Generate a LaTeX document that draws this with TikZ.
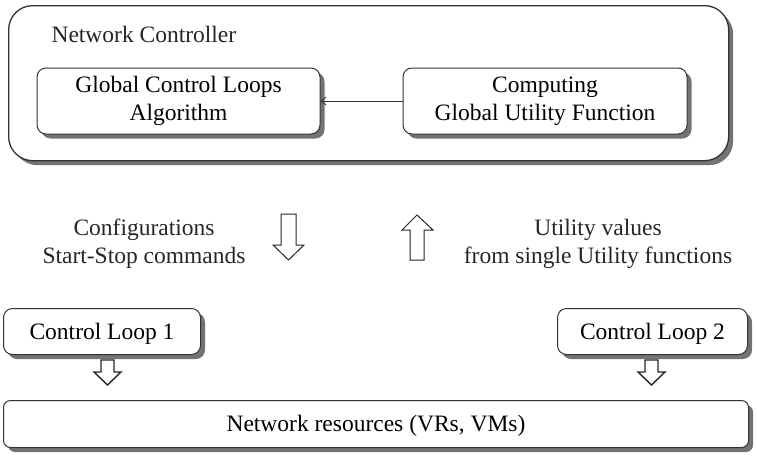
\documentclass[tikz,border=0pt]{standalone}
\usepackage{fontspec}
\setmainfont{Liberation Serif}
\usetikzlibrary{shadows,arrows.meta}
\begin{document}
\begin{tikzpicture}[x=1pt,y=-1pt,
  font=\fontsize{23.5}{28}\selectfont,
  shad/.style={drop shadow={shadow xshift=4.5pt,shadow yshift=-4.5pt,fill=black!55,opacity=1}},
  bigbox/.style={draw=black!80,line width=1.3pt,fill=white,rounded corners=24pt,shad},
  box/.style={draw=black!80,line width=1pt,fill=white,rounded corners=9pt,shad,align=center},
  lbl/.style={align=center,text=black!85},
  hollow/.style={draw=black!85,line width=1pt,fill=white}]
\useasboundingbox (0,0) rectangle (757,456);
% outer controller
\node[bigbox,minimum width=720pt,minimum height=155pt,anchor=north west] (nc) at (8,5) {};
\node[lbl,anchor=west] (nct) at (48,34) {Network Controller};
\node[box,minimum width=283pt,minimum height=66pt] (gcl) at (178.5,101) {Global Control Loops\\Algorithm};
\node[box,minimum width=284pt,minimum height=66pt] (cguf) at (545,101) {Computing\\Global Utility Function};
\draw[black!80,line width=0.8pt,-{Straight Barb[length=5pt,width=8pt]}] (cguf.west) -- (gcl.east);
% labels
\node[lbl] (cfg) at (144,244) {Configurations\\Start-Stop commands};
\node[lbl] (uv) at (598,244) {Utility values\\from single Utility functions};
% big hollow arrows
\draw[hollow] (281,214) -- (296,214) -- (296,245) -- (304,245) -- (288.5,260) -- (273,245) -- (281,245) -- cycle;
\draw[hollow] (410,260) -- (424,260) -- (424,230) -- (433,230) -- (417,215) -- (402,230) -- (410,230) -- cycle;
% control loops
\node[box,minimum width=197pt,minimum height=46pt,anchor=north west,text depth=1pt] (cl1) at (3,308) {Control Loop 1};
\node[box,minimum width=190pt,minimum height=46pt,anchor=north west,text depth=1pt] (cl2) at (557,308) {Control Loop 2};
\node[box,minimum width=745pt,minimum height=47pt,anchor=north west,rounded corners=7pt,text depth=1pt] (nr) at (3,400) {Network resources (VRs, VMs)};
% small arrows
\draw[hollow,line width=1.4pt] (101,360) -- (114,360) -- (114,372) -- (121,372) -- (107.5,385) -- (94,372) -- (101,372) -- cycle;
\draw[hollow,line width=1.4pt] (645,360) -- (658,360) -- (658,372) -- (665,372) -- (651.5,385) -- (638,372) -- (645,372) -- cycle;
\end{tikzpicture}
\end{document}
